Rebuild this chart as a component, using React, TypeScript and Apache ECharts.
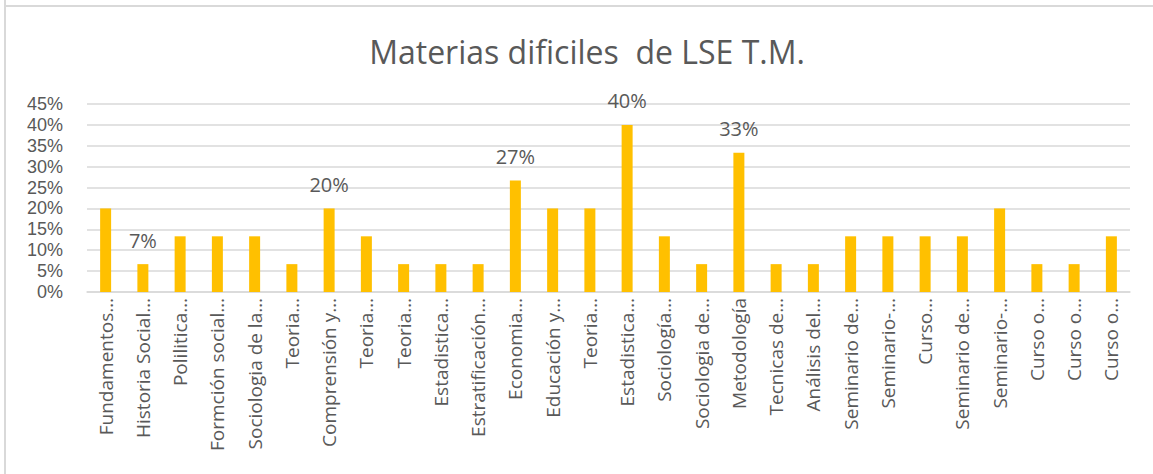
import React, { useEffect, useRef } from "react";
import * as echarts from "echarts";

const TITLE = "Materias dificiles  de LSE T.M.";

const categories: string[] = [
  "Fundamentos…",
  "Historia Social…",
  "Polilitica…",
  "Formción social…",
  "Sociologia de la…",
  "Teoria…",
  "Comprensión y…",
  "Teoria…",
  "Teoria…",
  "Estadistica…",
  "Estratificación…",
  "Economia…",
  "Educación y…",
  "Teoria…",
  "Estadistica…",
  "Sociología…",
  "Sociologia de…",
  "Metodología",
  "Tecnicas de…",
  "Análisis del…",
  "Seminario de…",
  "Seminario-…",
  "Curso…",
  "Seminario de…",
  "Seminario-…",
  "Curso o…",
  "Curso o…",
  "Curso o…",
];

const values: number[] = [
  0.2, 0.0667, 0.1333, 0.1333, 0.1333, 0.0667, 0.2, 0.1333, 0.0667, 0.0667,
  0.0667, 0.2667, 0.2, 0.2, 0.4, 0.1333, 0.0667, 0.3333, 0.0667, 0.0667,
  0.1333, 0.1333, 0.1333, 0.1333, 0.2, 0.0667, 0.0667, 0.1333,
];

// indices of bars that carry a data label in the reference
const labelledIndices: number[] = [1, 6, 11, 14, 17];

const FONT = "'Open Sans', 'DejaVu Sans', sans-serif";
const TICK_FONT = "'Liberation Sans', Arial, sans-serif";
const TEXT = "#595959";
const GRID = "#d9d9d9";
const BAR = "#FFC000";

export default function App() {
  const ref = useRef<HTMLDivElement>(null);

  useEffect(() => {
    if (!ref.current) return;
    const chart = echarts.init(ref.current, undefined, { renderer: "svg" });
    const data = values.map((v, i) => ({
      value: v,
      label: { show: labelledIndices.includes(i) },
    }));
    chart.setOption({
      animation: false,
      backgroundColor: "#ffffff",
      textStyle: { fontFamily: FONT },
      title: {
        text: TITLE,
        left: 582,
        top: 30,
        textAlign: "center",
        textStyle: {
          fontFamily: FONT,
          fontSize: 32,
          fontWeight: "normal",
          color: TEXT,
        },
      },
      graphic: [
        {
          type: "line",
          shape: { x1: 5, y1: 0, x2: 5, y2: 474 },
          style: { stroke: GRID, lineWidth: 2 },
        },
        {
          type: "line",
          shape: { x1: 4, y1: 6, x2: 1153, y2: 6 },
          style: { stroke: GRID, lineWidth: 2 },
        },
      ],
      grid: { left: 87, right: 23, top: 104, bottom: 182, containLabel: false },
      xAxis: {
        type: "category",
        data: categories,
        axisLine: { show: true, lineStyle: { color: GRID, width: 1.5 } },
        axisTick: { show: false },
        axisLabel: {
          rotate: 90,
          interval: 0,
          margin: 6,
          fontFamily: FONT,
          fontSize: 19,
          lineHeight: 20,
          color: TEXT,
        },
      },
      yAxis: {
        type: "value",
        min: 0,
        max: 0.45,
        interval: 0.05,
        axisLine: { show: false },
        axisTick: { show: false },
        splitLine: { lineStyle: { color: GRID, width: 1.5 } },
        axisLabel: {
          margin: 24,
          fontFamily: TICK_FONT,
          fontSize: 18,
          lineHeight: 19,
          color: TEXT,
          formatter: (v: number) => Math.round(v * 100) + "%",
        },
      },
      series: [
        {
          type: "bar",
          data,
          barWidth: 11,
          itemStyle: { color: BAR },
          label: {
            show: false,
            position: "top",
            distance: 14,
            fontFamily: FONT,
            fontSize: 20,
            color: TEXT,
            formatter: (p: any) => Math.round(p.value * 100) + "%",
          },
        },
      ],
    });
    return () => chart.dispose();
  }, []);

  return (
    <div
      ref={ref}
      style={{
        position: "fixed",
        left: 0,
        top: 0,
        width: 1153,
        height: 474,
        background: "#fff",
      }}
    />
  );
}
